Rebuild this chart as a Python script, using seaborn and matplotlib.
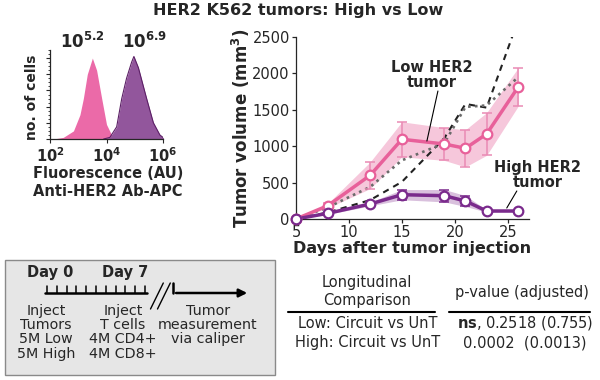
import matplotlib
matplotlib.use("Agg")
import numpy as np
import pandas as pd
import matplotlib.pyplot as plt
import seaborn as sns
from matplotlib.lines import Line2D
from matplotlib.patches import Rectangle, FancyArrowPatch
from matplotlib.ticker import MultipleLocator, NullFormatter

# ---------------- data ----------------
days = [5, 8, 12, 15, 19, 21, 23, 26]
low_circuit = [0, 183, 600, 1095, 1030, 971, 1168, 1817]
low_circuit_err = [0, 30, 183, 240, 225, 255, 293, 263]
high_circuit = [0, 78, 206, 334, 320, 247, 110, 110]
high_circuit_err = [0, 15, 25, 70, 85, 75, 15, 15]
low_unt = [0, 160, 441, 806, 1040, 1540, 1560, 1950]     # dotted
high_unt = [0, 90, 260, 510, 1110, 1580, 1530, 2740]     # dashed (runs off the top)

# flow histograms: log10 fluorescence vs relative cell count
low_logx = [2.12, 2.47, 2.83, 3.06, 3.18, 3.32, 3.5, 3.65, 3.83, 4.0, 4.18, 4.48]
low_count = [0.0, 0.02, 0.10, 0.30, 0.50, 0.80, 1.0, 0.85, 0.50, 0.18, 0.05, 0.0]
high_logx = [3.9, 4.12, 4.36, 4.54, 4.71, 4.89, 4.97, 5.13, 5.42, 5.66, 5.89, 6.07]
high_count = [0.0, 0.02, 0.15, 0.50, 0.75, 0.95, 1.02, 0.88, 0.50, 0.20, 0.05, 0.0]
mfi_labels = [r'$\mathbf{10^{5.2}}$', r'$\mathbf{10^{6.9}}$']

table_header = ['Longitudinal', 'Comparison']
table_rows = ['Low: Circuit vs UnT', 'High: Circuit vs UnT']
table_pvals = [r'$\mathbf{ns}$, 0.2518 (0.755)', '0.0002  (0.0013)']

PINK = '#e8609a'
PINK_LIGHT = '#ea8ab4'
PINK_BAND = '#f6c7db'
PURPLE = '#7a2a8c'
PURPLE_BAND = '#d9c0dd'
HIST_PINK = '#eb6aa8'
HIST_PURPLE = '#92569c'

sns.set_style("ticks")
plt.rcParams['font.family'] = ['DejaVu Sans']

fig = plt.figure(figsize=(6, 3.8), dpi=100)
W, H = 600, 380
def fx(px): return px / W
def fy(py): return 1 - py / H

fig.text(fx(298), fy(11), "HER2 K562 tumors: High vs Low", ha='center', va='center',
         fontsize=11.5, fontweight='bold')

# ---------------- histogram panel ----------------
axh = fig.add_axes([fx(50), fy(139), (163 - 50) / W, (139 - 50) / H])
df_low = pd.DataFrame({'x': 10 ** np.array(low_logx), 'y': low_count})
df_high = pd.DataFrame({'x': 10 ** np.array(high_logx), 'y': high_count})
axh.fill_between(df_low['x'], df_low['y'], color=HIST_PINK, lw=0)
axh.fill_between(df_high['x'], df_high['y'], color=HIST_PURPLE, lw=0)
sns.lineplot(data=df_high, x='x', y='y', ax=axh, color='#5c2066', lw=0.8)
axh.set_xscale('log')
axh.set_xlim(1e2, 1e6)
axh.set_ylim(0, 1.1)
axh.set_xticks([1e2, 1e4, 1e6])
axh.set_xticklabels([r'$\mathbf{10^{2}}$', r'$\mathbf{10^{4}}$', r'$\mathbf{10^{6}}$'], fontsize=10.5)
axh.yaxis.set_major_locator(MultipleLocator(0.2))
axh.yaxis.set_minor_locator(MultipleLocator(0.05))
axh.yaxis.set_major_formatter(NullFormatter())
axh.tick_params(axis='both', which='major', length=3, width=0.8, pad=2)
axh.tick_params(axis='both', which='minor', length=1.5, width=0.6)
axh.set_xlabel('')
axh.set_ylabel('')
for s in ['top', 'right']:
    axh.spines[s].set_visible(False)
for s in ['left', 'bottom']:
    axh.spines[s].set_linewidth(0.9)

fig.text(fx(82), fy(48), mfi_labels[0], ha='center', va='baseline', fontsize=12)
fig.text(fx(145), fy(48), mfi_labels[1], ha='center', va='baseline', fontsize=12)
fig.text(fx(32), fy(97), "no. of cells", rotation=90, ha='center', va='center',
         fontsize=10, fontweight='bold')
fig.text(fx(108), fy(174), "Fluorescence (AU)", ha='center', va='center', fontsize=10.5, fontweight='bold')
fig.text(fx(108), fy(192), "Anti-HER2 Ab-APC", ha='center', va='center', fontsize=10.5, fontweight='bold')

# ---------------- tumor growth panel ----------------
ax = fig.add_axes([fx(296), fy(219), (529 - 296) / W, (219 - 37) / H])
df = pd.DataFrame({'day': days, 'low': low_circuit, 'low_err': low_circuit_err,
                   'high': high_circuit, 'high_err': high_circuit_err,
                   'low_unt': low_unt, 'high_unt': high_unt})

ax.fill_between(df['day'], df['low'] - df['low_err'], df['low'] + df['low_err'],
                color=PINK_BAND, lw=0, zorder=1)
ax.fill_between(df['day'], df['high'] - df['high_err'], df['high'] + df['high_err'],
                color=PURPLE_BAND, lw=0, zorder=1)

sns.lineplot(data=df, x='day', y='high_unt', ax=ax, color='#222222', lw=1.5,
             linestyle=(0, (3, 2.5)), zorder=2)
sns.lineplot(data=df, x='day', y='low_unt', ax=ax, color='#6a6a6a', lw=1.9,
             linestyle=(0, (1, 1.6)), zorder=2)

ax.errorbar(df['day'], df['low'], yerr=df['low_err'], fmt='none', ecolor=PINK_LIGHT,
            elinewidth=1.1, capsize=3.5, capthick=1.1, zorder=3)
ax.errorbar(df['day'], df['high'], yerr=df['high_err'], fmt='none', ecolor=PURPLE,
            elinewidth=1.1, capsize=3.5, capthick=1.1, zorder=3)

sns.lineplot(data=df, x='day', y='low', ax=ax, color=PINK, lw=2.5, zorder=4)
sns.lineplot(data=df, x='day', y='high', ax=ax, color=PURPLE, lw=2.5, zorder=4)
sns.scatterplot(data=df, x='day', y='low', ax=ax, s=48, color='white', edgecolor=PINK,
                linewidth=1.6, zorder=5, clip_on=False)
sns.scatterplot(data=df, x='day', y='high', ax=ax, s=48, color='white', edgecolor=PURPLE,
                linewidth=1.6, zorder=5, clip_on=False)

ax.set_xlim(5, 27)
ax.set_ylim(0, 2500)
ax.set_xticks([5, 10, 15, 20, 25])
ax.set_yticks([0, 500, 1000, 1500, 2000, 2500])
ax.tick_params(axis='both', labelsize=10.5, length=3, width=0.9, pad=1.5)
ax.set_xlabel('')
ax.set_ylabel('')
for s in ['top', 'right']:
    ax.spines[s].set_visible(False)
for s in ['left', 'bottom']:
    ax.spines[s].set_linewidth(0.9)

fig.text(fx(241), fy(128), r'Tumor volume (mm$^\mathbf{3}$)', rotation=90, ha='center',
         va='center', fontsize=12, fontweight='bold')
fig.text(fx(412), fy(248), "Days after tumor injection", ha='center', va='center',
         fontsize=11.5, fontweight='bold')

fig.text(fx(432), fy(75), "Low HER2\ntumor", ha='center', va='center', fontsize=10.5,
         fontweight='bold', linespacing=1.0)
ax.plot([18.4, 17.36], [1758, 1071], color='black', lw=0.8, zorder=6)
fig.text(fx(538), fy(175), "High HER2\ntumor", ha='center', va='center', fontsize=10.5,
         fontweight='bold', linespacing=1.0)
ax.plot([25.85, 24.9], [385, 151], color='black', lw=0.8, zorder=6, clip_on=False)

# ---------------- protocol box ----------------
fig.add_artist(Rectangle((fx(5), fy(375)), 270 / W, 115 / H, transform=fig.transFigure,
                         facecolor='#e6e6e6', edgecolor='#8a8a8a', lw=1))

def fline(xs, ys, lw=1.5):
    fig.add_artist(Line2D([fx(x) for x in xs], [fy(y) for y in ys],
                          transform=fig.transFigure, color='black', lw=lw))

fline([45, 147], [293, 293], lw=1.8)
for tx in np.linspace(47, 145, 11):
    fline([tx, tx], [286, 293], lw=1.1)
fline([150.5, 163.3], [309, 283], lw=1.0)
fline([157.5, 170.3], [309, 283], lw=1.0)
fline([173.3, 173.3], [283, 293], lw=1.8)
fig.add_artist(FancyArrowPatch((fx(173.3), fy(293)), (fx(250), fy(293)), transform=fig.transFigure,
                               arrowstyle='-|>', mutation_scale=12, lw=1.8, color='black'))

fig.text(fx(50), fy(273), "Day 0", ha='center', va='center', fontsize=10.5, fontweight='bold')
fig.text(fx(125), fy(273), "Day 7", ha='center', va='center', fontsize=10.5, fontweight='bold')

col_lines = [
    (46, ["Inject", "Tumors", "5M Low", "5M High"]),
    (123, ["Inject", "T cells", "4M CD4+", "4M CD8+"]),
    (208, ["Tumor", "measurement", "via caliper"]),
]
row_y = [311, 325, 339, 354]
for cx, lines in col_lines:
    for ly, txt in zip(row_y, lines):
        fig.text(fx(cx), fy(ly), txt, ha='center', va='center', fontsize=10.3)

# ---------------- stats table ----------------
fig.text(fx(367), fy(282), table_header[0], ha='center', va='center', fontsize=10.5)
fig.text(fx(367), fy(301), table_header[1], ha='center', va='center', fontsize=10.5)
fig.text(fx(522), fy(292), "p-value (adjusted)", ha='center', va='center', fontsize=10.5)
fline([288, 435], [312, 312], lw=1.5)
fline([449, 590], [312, 312], lw=1.5)
for ry, name, pv in zip([323, 343], table_rows, table_pvals):
    fig.text(fx(368), fy(ry), name, ha='center', va='center', fontsize=10.5)
    fig.text(fx(525), fy(ry), pv, ha='center', va='center', fontsize=10.5)

fig.savefig("out.png", dpi=100)
